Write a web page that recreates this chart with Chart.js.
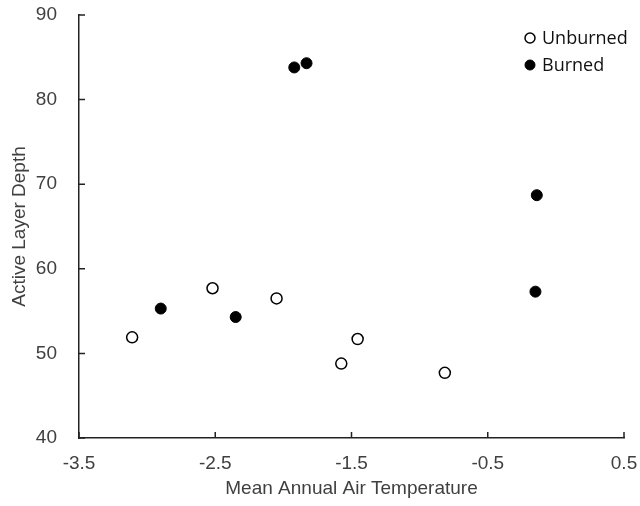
<!DOCTYPE html>
<html>
<head>
<meta charset="utf-8">
<script src="https://cdn.jsdelivr.net/npm/chart.js@4.4.1/dist/chart.umd.min.js"></script>
<style>
  html, body { margin: 0; padding: 0; background: #fff; }
  #wrap { width: 640px; height: 506px; }
</style>
</head>
<body>
<div id="wrap"><canvas id="myChart" width="640" height="506"></canvas></div>
<script>
// values
var unburnedTemp = [-3.11, -2.52, -2.05, -1.575, -1.455, -0.815];
var unburnedDepth = [51.9, 57.7, 56.5, 48.8, 51.7, 47.7];
var burnedTemp = [-2.90, -2.35, -1.92, -1.83, -0.14, -0.15];
var burnedDepth = [55.3, 54.3, 83.8, 84.3, 68.7, 57.3];
var seriesNames = ['Unburned', 'Burned'];

function toPoints(xs, ys) {
    var pts = [];
    for (var i = 0; i < xs.length; i++) pts.push({ x: xs[i], y: ys[i] });
    return pts;
}

var axisFont = { family: "'Liberation Sans', Arial, sans-serif", size: 19 };
var textColor = '#404040';

// short tick marks pointing into the plot
var innerTicks = {
    id: 'innerTicks',
    afterDraw: function (chart) {
        var ctx = chart.ctx, xs = chart.scales.x, ys = chart.scales.y;
        ctx.save();
        ctx.strokeStyle = '#222';
        ctx.lineWidth = 1.5;
        ctx.beginPath();
        xs.ticks.forEach(function (t) {
            var px = xs.getPixelForValue(t.value);
            ctx.moveTo(px, ys.bottom);
            ctx.lineTo(px, ys.bottom - 6);
        });
        ys.ticks.forEach(function (t) {
            var py = ys.getPixelForValue(t.value);
            ctx.moveTo(xs.left, py);
            ctx.lineTo(xs.left + 6, py);
        });
        ctx.stroke();
        ctx.restore();
    }
};

// legend drawn in the top right corner of the plot
var cornerLegend = {
    id: 'cornerLegend',
    afterDraw: function (chart) {
        var ctx = chart.ctx;
        var x = 530, y = 38, gap = 27;
        ctx.save();
        ctx.font = "18px 'Open Sans', sans-serif";
        ctx.textBaseline = 'middle';
        chart.data.datasets.forEach(function (ds, i) {
            ctx.beginPath();
            ctx.arc(x, y + i * gap, 5, 0, Math.PI * 2);
            ctx.fillStyle = ds.backgroundColor;
            ctx.fill();
            ctx.lineWidth = ds.borderWidth;
            ctx.strokeStyle = ds.borderColor;
            ctx.stroke();
            ctx.fillStyle = '#111';
            ctx.fillText(ds.label, x + 12, y + i * gap + 1);
        });
        ctx.restore();
    }
};

var ctx = document.getElementById('myChart').getContext('2d');
var myChart = new Chart(ctx, {
    type: 'scatter',
    data: {
        datasets: [{
            label: seriesNames[0],
            data: toPoints(unburnedTemp, unburnedDepth),
            backgroundColor: '#ffffff',
            borderColor: '#000000',
            borderWidth: 1.5,
            pointRadius: 5.5
        }, {
            label: seriesNames[1],
            data: toPoints(burnedTemp, burnedDepth),
            backgroundColor: '#000000',
            borderColor: '#000000',
            borderWidth: 1,
            pointRadius: 5.5
        }]
    },
    options: {
        responsive: false,
        animation: false,
        layout: { padding: 0 },
        plugins: {
            legend: { display: false },
            tooltip: { enabled: false }
        },
        scales: {
            x: {
                type: 'linear',
                min: -3.5,
                max: 0.5,
                grid: { display: false, drawTicks: false },
                border: { display: true, color: '#222', width: 1.5 },
                ticks: { stepSize: 1, padding: 14, color: textColor, font: axisFont, maxRotation: 0 },
                title: { display: true, text: 'Mean Annual Air Temperature', color: textColor, font: axisFont, padding: { top: 4, bottom: 6 } },
                afterFit: function (scale) {
                    scale.height = 68;
                    scale.paddingLeft = 0;
                    scale.paddingRight = 16;
                }
            },
            y: {
                type: 'linear',
                min: 40,
                max: 90,
                grid: { display: false, drawTicks: false },
                border: { display: true, color: '#222', width: 1.5 },
                ticks: { stepSize: 10, padding: 22, color: textColor, font: axisFont },
                title: { display: true, text: 'Active Layer Depth', color: textColor, font: axisFont, padding: { top: 8, bottom: 4 } },
                afterFit: function (scale) {
                    scale.width = 79;
                    scale.paddingTop = 15;
                    scale.paddingBottom = 0;
                }
            }
        }
    },
    plugins: [innerTicks, cornerLegend]
});
</script>
</body>
</html>
